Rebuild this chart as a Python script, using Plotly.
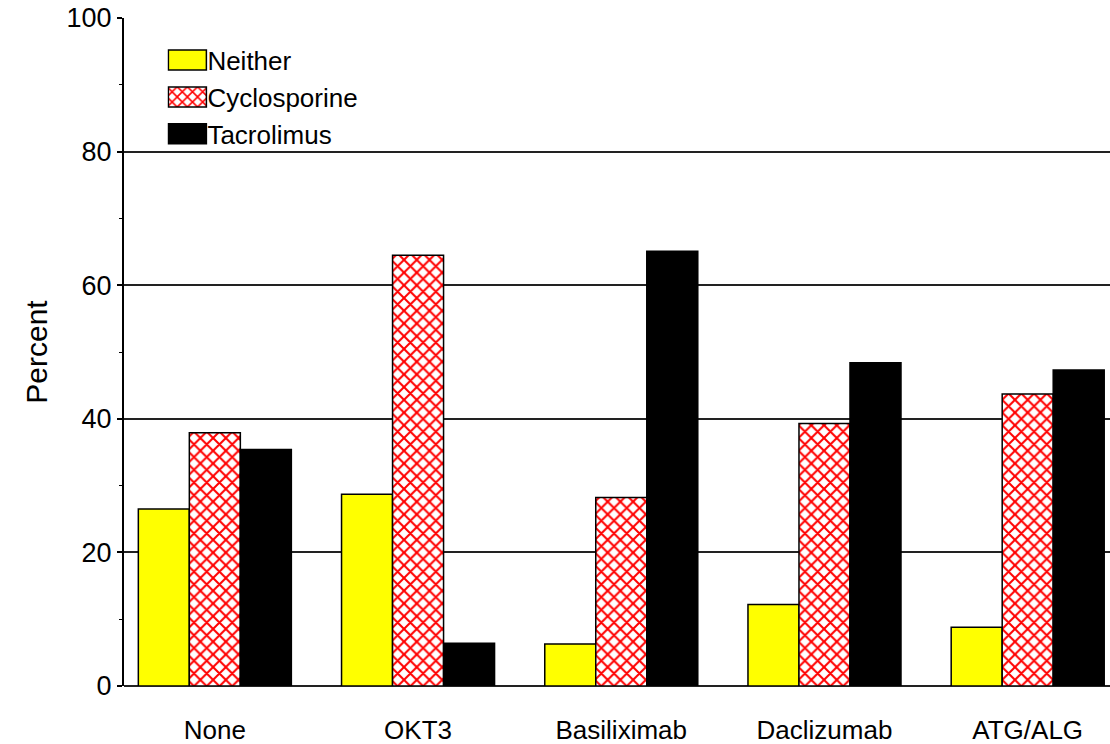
import plotly.graph_objects as go

categories = ["None", "OKT3", "Basiliximab", "Daclizumab", "ATG/ALG"]
neither = [26.5, 28.7, 6.3, 12.2, 8.8]
cyclosporine = [37.9, 64.5, 28.2, 39.3, 43.7]
tacrolimus = [35.4, 6.4, 65.1, 48.4, 47.3]
y_ticks = [0, 20, 40, 60, 80, 100]

FONT = "Liberation Sans, Arial, sans-serif"

fig = go.Figure()
fig.add_trace(go.Bar(
    name="Neither", x=categories, y=neither,
    marker=dict(color="#FFFF00", line=dict(color="black", width=1.5)),
))
fig.add_trace(go.Bar(
    name="Cyclosporine", x=categories, y=cyclosporine,
    marker=dict(color="white", line=dict(color="black", width=1.5),
                pattern=dict(shape="x", fgcolor="#FF0000", bgcolor="white",
                             fgopacity=1, size=9, solidity=0.4, fillmode="overlay")),
))
fig.add_trace(go.Bar(
    name="Tacrolimus", x=categories, y=tacrolimus,
    marker=dict(color="black", line=dict(color="black", width=1.5)),
))

fig.update_layout(
    width=1110, height=744,
    margin=dict(l=124, r=0, t=18, b=58),
    paper_bgcolor="white", plot_bgcolor="white",
    barmode="group", bargap=0.247, bargroupgap=0,
    font=dict(family=FONT, color="black"),
    showlegend=True,
    legend=dict(x=0.044, y=0.972, xanchor="left", yanchor="top",
                bgcolor="rgba(0,0,0,0)", font=dict(size=26, family=FONT),
                tracegroupgap=0, itemwidth=30),
    xaxis=dict(
        range=[-0.447, 4.405],
        showgrid=False, showline=False, zeroline=False,
        ticks="", tickfont=dict(size=26, family=FONT),
        ticklabelstandoff=26,
    ),
    yaxis=dict(
        range=[0, 100], tickvals=y_ticks,
        showgrid=True, gridcolor="#222222", gridwidth=1.5,
        zeroline=True, zerolinecolor="#222222", zerolinewidth=1.5,
        showline=True, linecolor="black", linewidth=2,
        ticks="outside", ticklen=5, tickwidth=1.5, tickcolor="black",
        minor=dict(dtick=10, ticks="outside", ticklen=3, tickwidth=1, tickcolor="black", showgrid=False),
        tickfont=dict(size=27, family=FONT),
        title=dict(text="Percent", font=dict(size=30, family=FONT), standoff=10),
    ),
)

post = """
document.body.style.margin = '0';
document.body.style.overflow = 'hidden';
var gd = document.getElementById('{plot_id}');
function fixLegend(){
  var ps = gd.querySelectorAll('.legend .legendpoints path');
  ps.forEach(function(p){ p.setAttribute('d','M19,10H-19V-10H19Z'); });
}
fixLegend();
if (gd.on) { gd.on('plotly_afterplot', fixLegend); }
setTimeout(fixLegend, 50);
setTimeout(fixLegend, 300);
"""

fig.write_html("out.html", post_script=post, config={"displayModeBar": False})
